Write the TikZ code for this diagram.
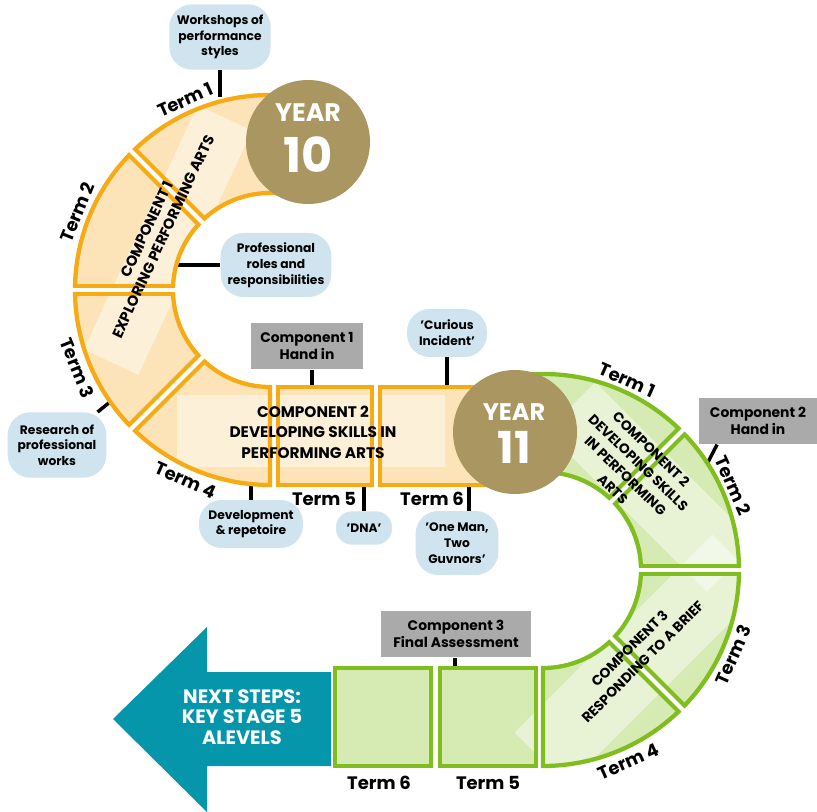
\documentclass[tikz,border=0pt]{standalone}
\usepackage{fontspec}
\setmainfont{Poppins}
\usetikzlibrary{calc,positioning}

\definecolor{ringorange}{RGB}{246,170,20}
\definecolor{orangefill}{RGB}{253,228,184}
\definecolor{ringgreen}{RGB}{128,189,30}
\definecolor{greenfill}{RGB}{214,234,180}
\definecolor{yeargold}{RGB}{170,150,96}
\definecolor{bubbleblue}{RGB}{207,228,238}
\definecolor{handgrey}{RGB}{170,170,170}
\definecolor{stepteal}{RGB}{6,150,172}

% annular sector: centre, start angle, end angle, inner radius, outer radius
\newcommand{\ringsector}[5]{($(#1)+(#2:#5)$) arc[start angle=#2, end angle=#3, radius=#5] -- ($(#1)+(#3:#4)$) arc[start angle=#3, end angle=#2, radius=#4] -- cycle}

\begin{document}
\begin{tikzpicture}[
    x=0.75pt, y=0.75pt,
    orline/.style={draw=ringorange, line width=3.2pt},
    grline/.style={draw=ringgreen, line width=3.2pt},
    glow/.style={fill=white, fill opacity=0.45},
    glowbox/.style={rectangle, fill=white, fill opacity=0.45, inner sep=0pt},
    term/.style={font=\bfseries\fontsize{13.5}{13.5}\selectfont, inner sep=0pt},
    bubble/.style={rectangle, rounded corners=17pt, fill=bubbleblue, align=center, inner sep=1pt, font=\bfseries\fontsize{9.2}{11.8}\selectfont},
    handin/.style={rectangle, fill=handgrey, align=center, inner sep=1pt, font=\bfseries\fontsize{10.4}{12.8}\selectfont},
    comptext/.style={align=center, inner sep=0pt, font=\bfseries\fontsize{11}{13.5}\selectfont},
    year/.style={circle, fill=yeargold, minimum size=93pt, inner sep=0pt},
    yeartext/.style={text=white, inner sep=0pt, font=\bfseries},
    conn/.style={draw=black, line width=2.6pt}
]
\useasboundingbox (0,0) rectangle (817,-812);

% Centres of the two bends
\coordinate (c10) at (270,-290);
\coordinate (c11) at (543,-570);

% Fills
\fill[orangefill] \ringsector{c10}{80}{270}{97}{195};
\fill[orangefill] (278,-387) rectangle (372,-485);
\fill[orangefill] (380,-387) rectangle (495,-485);
\fill[greenfill] \ringsector{c11}{100}{-90}{98}{196};
\fill[greenfill] (440,-668) rectangle (536,-766);
\fill[greenfill] (335,-668) rectangle (431,-766);

% Light bands
\node[glowbox, rotate=65, minimum width=202pt, minimum height=45pt] (glow1) at (168,-240) {};
\fill[glow] (177,-395) rectangle (445,-467);
\node[glowbox, rotate=-45, minimum width=170pt, minimum height=52pt] (glow2) at (651,-487) {};
\node[glowbox, rotate=45, minimum width=210pt, minimum height=56pt] (glow3) at (640,-660) {};

% Notes
\node[bubble, minimum width=76pt, minimum height=49pt] (workshops) at (220,-37) {Workshops of\\performance\\styles};
\node[bubble, minimum width=83pt, minimum height=48pt] (roles) at (276,-265) {Professional\\roles and\\responsibilities};
\node[bubble, minimum width=74pt, minimum height=49pt] (research) at (57,-445) {Research of\\professional\\works};
\node[bubble, minimum width=78pt, minimum height=36pt] (devel) at (251,-524) {Development\\\& repetoire};
\node[bubble, minimum width=42pt, minimum height=25pt, rounded corners=12pt] (dna) at (364,-528) {'DNA'};
\node[bubble, minimum width=60pt, minimum height=36pt] (curious) at (447,-333) {'Curious\\Incident'};
\node[bubble, minimum width=62pt, minimum height=48pt] (oneman) at (457,-543) {'One Man,\\Two\\Guvnors'};

\node[handin, minimum width=84pt, minimum height=35pt] (hand1) at (307,-346) {Component 1\\Hand in};
\node[handin, minimum width=88pt, minimum height=35pt] (hand2) at (758,-421) {Component 2\\Hand in};
\node[handin, minimum width=113pt, minimum height=35pt] (final3) at (456,-634) {Component 3\\Final Assessment};

% Connections
\coordinate (p-workshops) at (220,-97);
\coordinate (p-roles) at (177,-265);
\coordinate (p-research) at ($(c10)+(215:196)$);
\coordinate (p-devel) at (251,-485);
\coordinate (p-dna) at (364,-485);
\coordinate (p-curious) at (447,-387);
\coordinate (p-oneman) at (469,-485);
\coordinate (p-hand1) at (312,-387);
\coordinate (p-hand2) at ($(c11)+(33:196)$);
\coordinate (p-final3) at (455,-668);

\draw[conn] (workshops) -- (p-workshops);
\draw[conn] (p-roles) -- (roles);
\draw[conn] (research) -- (p-research);
\draw[conn] (devel) -- (p-devel);
\draw[conn] (dna) -- (p-dna);
\draw[conn] (curious) -- (p-curious);
\draw[conn] (p-oneman) -- (p-oneman |- oneman.north);
\draw[conn] (p-hand1) -- (p-hand1 |- hand1.south);
\draw[conn] (p-hand2) -- ($(hand2.south west)+(18,0)$);
\draw[conn] (p-final3) -- (p-final3 |- final3.south);

% Outlines
\draw[orline] \ringsector{c10}{80}{270}{97}{195};
\foreach \a in {135,180,225} {
  \draw[ringorange, line width=9.4pt] ($(c10)+(\a:97)$) -- ($(c10)+(\a:195)$);
  \draw[white, line width=3pt] ($(c10)+(\a:92)$) -- ($(c10)+(\a:200)$);
}
\draw[orline] (278,-387) rectangle (372,-485);
\draw[orline] (380,-387) rectangle (495,-485);

\draw[grline] \ringsector{c11}{100}{-90}{98}{196};
\foreach \a in {45,0,-45} {
  \draw[ringgreen, line width=9.4pt] ($(c11)+(\a:98)$) -- ($(c11)+(\a:196)$);
  \draw[white, line width=3pt] ($(c11)+(\a:93)$) -- ($(c11)+(\a:201)$);
}
\draw[grline] (440,-668) rectangle (536,-766);
\draw[grline] (335,-668) rectangle (431,-766);

% Years
\node[year] (year10) at (308,-142) {};
\node[yeartext, font=\bfseries\fontsize{19}{19}\selectfont] (year10a) at (308,-113) {YEAR};
\node[yeartext, font=\bfseries\fontsize{36}{36}\selectfont] (year10b) at (308,-155) {10};
\node[year] (year11) at (515,-432) {};
\node[yeartext, font=\bfseries\fontsize{18}{18}\selectfont] (year11a) at (514,-412) {YEAR};
\node[yeartext, font=\bfseries\fontsize{33}{33}\selectfont] (year11b) at (514,-447) {11};

% Next steps
\fill[stepteal] (331,-672) -- (207,-672) -- (207,-627) -- (113,-719) -- (207,-812) -- (207,-766) -- (331,-766) -- cycle;
\node[yeartext, align=center, font=\bfseries\fontsize{14.5}{15.5}\selectfont] (nextsteps) at (242,-717) {NEXT STEPS:\\KEY STAGE 5\\ALEVELS};

% Components
\node[comptext, rotate=65] (comp1) at (155,-233) {COMPONENT 1\\EXPLORING PERFORMING ARTS};
\node[comptext, font=\bfseries\fontsize{11.5}{15.3}\selectfont] (comp2) at (313,-432) {COMPONENT 2\\DEVELOPING SKILLS IN\\PERFORMING ARTS};
\node[comptext, rotate=-44, font=\bfseries\fontsize{10.3}{13.8}\selectfont] (comp2b) at (632,-469) {COMPONENT 2\\DEVELOPING SKILLS\\IN PERFORMING\\ARTS};
\node[comptext, rotate=45, font=\bfseries\fontsize{10.4}{14}\selectfont] (comp3) at (636,-655) {COMPONENT 3\\RESPONDING TO A BRIEF};

% Terms, year 10
\node[term, rotate=24] (y10t1) at ($(c10)+(114:208)$) {Term 1};
\node[term, rotate=68] (y10t2) at ($(c10)+(158:208)$) {Term 2};
\node[term, rotate=-68] (y10t3) at ($(c10)+(202:208)$) {Term 3};
\node[term, rotate=-24] (y10t4) at ($(c10)+(246:208)$) {Term 4};
\node[term] (y10t5) at (324,-499) {Term 5};
\node[term] (y10t6) at (432,-499) {Term 6};

% Terms, year 11
\node[term, rotate=-24] (y11t1) at ($(c11)+(66:208)$) {Term 1};
\node[term, rotate=-66] (y11t2) at ($(c11)+(24:208)$) {Term 2};
\node[term, rotate=66] (y11t3) at ($(c11)+(-24:208)$) {Term 3};
\node[term, rotate=24] (y11t4) at ($(c11)+(-66:210)$) {Term 4};
\node[term] (y11t5) at (488,-783) {Term 5};
\node[term] (y11t6) at (379,-783) {Term 6};

\end{tikzpicture}
\end{document}
